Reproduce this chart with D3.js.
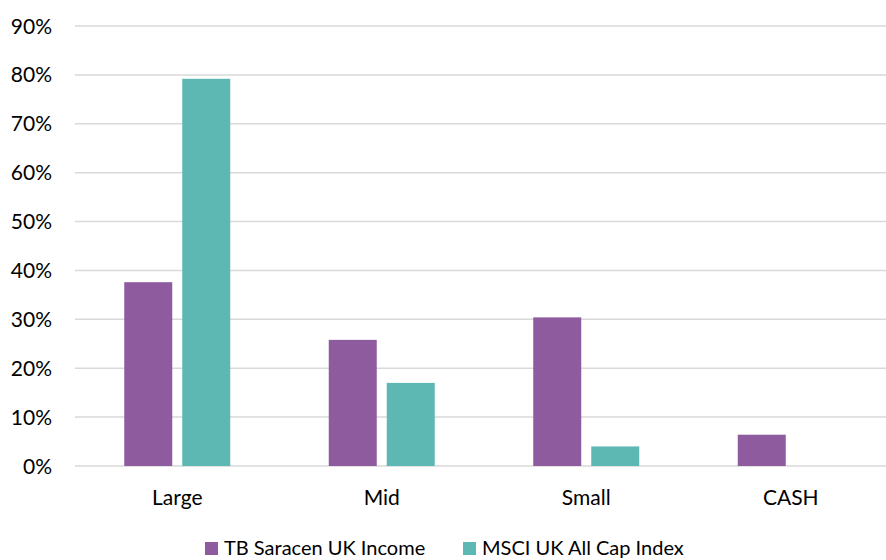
<!DOCTYPE html>
<html>
<head>
<meta charset="utf-8">
<script src="https://cdn.jsdelivr.net/npm/d3@7"></script>
<style>
    body { margin: 0; background: #fff; overflow: hidden; }
    text { font-family: Lato, "Open Sans", sans-serif; fill: #000; }
</style>
</head>
<body>
<div id="chart"></div>
<script>
const categories = ['Large', 'Mid', 'Small', 'CASH'];
const series_names = ['TB Saracen UK Income', 'MSCI UK All Cap Index'];
const fund_values = [37.6, 25.8, 30.4, 6.4];
const index_values = [79.2, 17.0, 4.0, 0];
const tick_values = [0, 10, 20, 30, 40, 50, 60, 70, 80, 90];

const colors = ['#8E5B9E', '#5DB8B3'];

const chart_width = 886;
const chart_height = 560;
const margin = { top: 26, left: 75, bottom: 94, right: -7 };

const svg = d3.select('#chart')
    .append('svg')
    .attr('width', chart_width)
    .attr('height', chart_height)
    .style('display', 'block');

const x_scale = d3.scaleBand()
    .domain(categories)
    .range([margin.left, chart_width - margin.right]);

const bar_width = 48;
const bar_gap = 10;

const y_scale = d3.scaleLinear()
    .domain([0, 90])
    .range([chart_height - margin.bottom, margin.top]);

// gridlines
svg.selectAll('line.grid')
    .data(tick_values)
    .enter()
    .append('line')
    .attr('class', 'grid')
    .attr('x1', margin.left)
    .attr('x2', chart_width)
    .attr('y1', d => y_scale(d))
    .attr('y2', d => y_scale(d))
    .attr('stroke', '#d9d9d9')
    .attr('stroke-width', 1.5);

// y labels
svg.selectAll('text.ytick')
    .data(tick_values)
    .enter()
    .append('text')
    .attr('class', 'ytick')
    .attr('x', 52)
    .attr('y', d => y_scale(d))
    .attr('dy', '0.36em')
    .attr('text-anchor', 'end')
    .attr('font-size', 21)
    .text(d => d + '%');

// bars
const all_series = [fund_values, index_values];
all_series.forEach((values, s) => {
    svg.selectAll('rect.s' + s)
        .data(values)
        .enter()
        .append('rect')
        .attr('class', 's' + s)
        .attr('x', (d, i) => x_scale(categories[i]) + x_scale.bandwidth() / 2
            + (s === 0 ? -bar_gap / 2 - bar_width : bar_gap / 2))
        .attr('y', d => y_scale(d))
        .attr('width', bar_width)
        .attr('height', d => y_scale(0) - y_scale(d))
        .attr('fill', colors[s]);
});

// category labels
svg.selectAll('text.xtick')
    .data(categories)
    .enter()
    .append('text')
    .attr('class', 'xtick')
    .attr('x', d => x_scale(d) + x_scale.bandwidth() / 2)
    .attr('y', 505)
    .attr('text-anchor', 'middle')
    .attr('font-size', 21)
    .text(d => d);

// legend
const legend_x = [205, 463];
const legend = svg.selectAll('g.legend')
    .data(series_names)
    .enter()
    .append('g')
    .attr('class', 'legend')
    .attr('transform', (d, i) => `translate(${legend_x[i]}, 542)`);

legend.append('rect')
    .attr('width', 13)
    .attr('height', 13)
    .attr('fill', (d, i) => colors[i]);

legend.append('text')
    .attr('x', 19)
    .attr('y', 13)
    .attr('font-size', 20)
    .text(d => d);
</script>
</body>
</html>
